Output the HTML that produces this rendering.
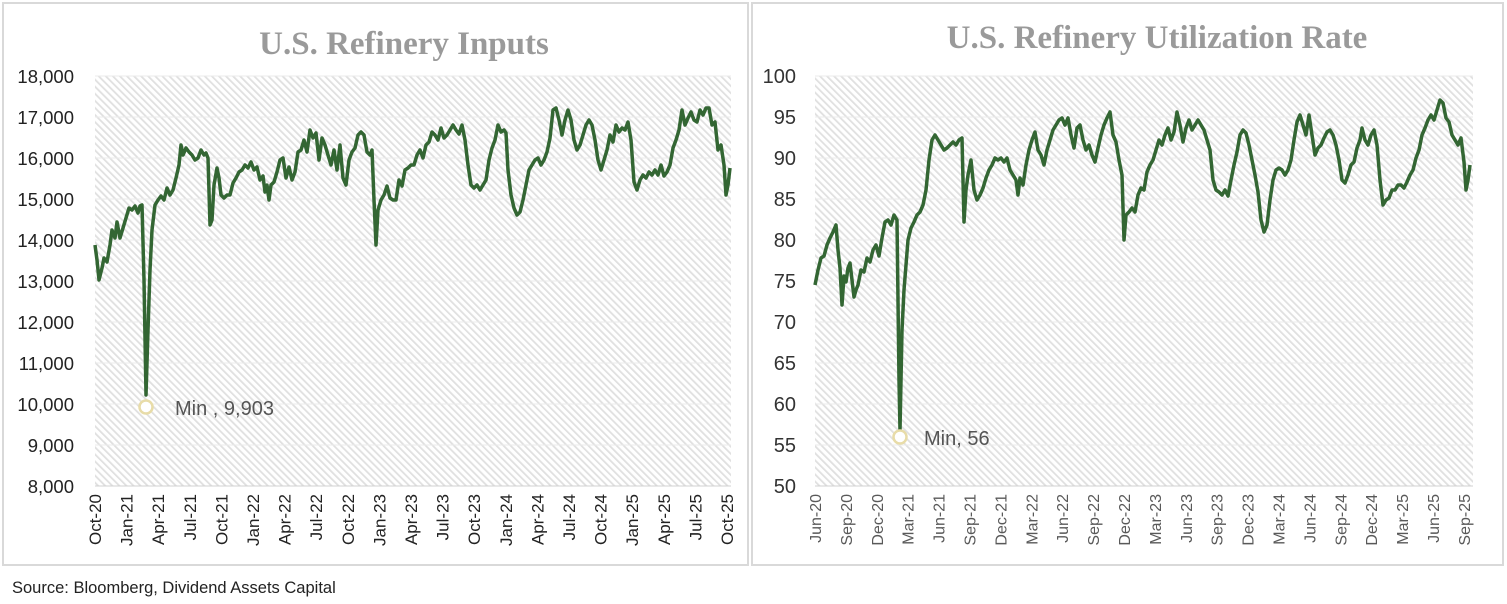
<!DOCTYPE html>
<html><head><meta charset="utf-8"><style>
body{margin:0;background:#fff;width:1507px;height:599px;overflow:hidden;font-family:"Liberation Sans",sans-serif}
</style></head><body>
<svg width="1507" height="599" xmlns="http://www.w3.org/2000/svg" font-family="Liberation Sans, sans-serif">
<defs>
<pattern id="h" width="5" height="5" patternUnits="userSpaceOnUse" patternTransform="rotate(-45)">
<rect width="5" height="5" fill="#fff"/><rect width="1.8" height="5" fill="#e0e0e0"/>
</pattern>
</defs>
<rect x="3" y="3" width="745" height="562" fill="#fff" stroke="#d9d9d9" stroke-width="2"/>
<rect x="752" y="3" width="751" height="562" fill="#fff" stroke="#d9d9d9" stroke-width="2"/>
<text x="404" y="54" text-anchor="middle" font-family="Liberation Serif, serif" font-weight="bold" font-size="33" fill="#9a9a9a">U.S. Refinery Inputs</text>
<text x="1157" y="48" text-anchor="middle" font-family="Liberation Serif, serif" font-weight="bold" font-size="33" fill="#9a9a9a">U.S. Refinery Utilization Rate</text>
<rect x="95" y="76" width="636" height="410" fill="url(#h)"/>
<rect x="815" y="76" width="658" height="410" fill="url(#h)"/>
<g stroke="#ebebeb" stroke-width="1">
<line x1="95" x2="731" y1="76" y2="76"/><line x1="95" x2="731" y1="117" y2="117"/><line x1="95" x2="731" y1="158" y2="158"/><line x1="95" x2="731" y1="199" y2="199"/><line x1="95" x2="731" y1="240" y2="240"/><line x1="95" x2="731" y1="281" y2="281"/><line x1="95" x2="731" y1="322" y2="322"/><line x1="95" x2="731" y1="363" y2="363"/><line x1="95" x2="731" y1="404" y2="404"/><line x1="95" x2="731" y1="445" y2="445"/>
<line x1="815" x2="1473" y1="76" y2="76"/><line x1="815" x2="1473" y1="117" y2="117"/><line x1="815" x2="1473" y1="158" y2="158"/><line x1="815" x2="1473" y1="199" y2="199"/><line x1="815" x2="1473" y1="240" y2="240"/><line x1="815" x2="1473" y1="281" y2="281"/><line x1="815" x2="1473" y1="322" y2="322"/><line x1="815" x2="1473" y1="363" y2="363"/><line x1="815" x2="1473" y1="404" y2="404"/><line x1="815" x2="1473" y1="445" y2="445"/>
</g>
<line x1="95" x2="731" y1="486" y2="486" stroke="#d0d0d0"/>
<line x1="815" x2="1473" y1="486" y2="486" stroke="#d0d0d0"/>
<g font-size="18.5" fill="#222" text-anchor="end">
<text x="74" y="83">18,000</text><text x="74" y="124">17,000</text><text x="74" y="165">16,000</text><text x="74" y="206">15,000</text><text x="74" y="247">14,000</text><text x="74" y="288">13,000</text><text x="74" y="329">12,000</text><text x="74" y="370">11,000</text><text x="74" y="411">10,000</text><text x="74" y="452">9,000</text><text x="74" y="493">8,000</text>
</g>
<g font-size="20" fill="#333" text-anchor="end">
<text x="796" y="83">100</text><text x="796" y="124">95</text><text x="796" y="165">90</text><text x="796" y="206">85</text><text x="796" y="247">80</text><text x="796" y="288">75</text><text x="796" y="329">70</text><text x="796" y="370">65</text><text x="796" y="411">60</text><text x="796" y="452">55</text><text x="796" y="493">50</text>
</g>
<g font-size="17" fill="#222" text-anchor="end" id="lx"></g>
<g font-size="16" fill="#595959" text-anchor="end" id="rx"></g>
<polyline fill="none" stroke="#336633" stroke-width="3.5" stroke-linejoin="round" points="95,245 97,260 99,280 102,268 104,258 107,262 110,245 112,230 115,238 117,222 120,238 123,228 126,218 129,208 132,210 135,206 138,213 140,206 142,205 144,280 146,395 148,330 150,270 152,230 155,205 158,200 161,196 164,200 167,188 170,195 173,190 176,178 179,165 181,145 183,155 186,148 189,152 192,155 195,160 198,158 201,150 204,155 206,153 208,158 210,225 212,220 214,185 217,168 219,178 221,195 224,198 227,195 230,195 233,183 236,178 239,172 242,170 245,165 248,168 251,162 254,170 257,167 260,180 263,176 265,192 267,185 269,200 271,185 274,182 277,172 280,160 283,158 286,178 289,167 292,180 295,172 298,152 301,150 304,140 307,152 310,130 313,138 316,133 319,160 322,138 325,145 328,155 331,165 334,150 337,170 340,145 343,178 346,185 349,160 352,152 355,148 358,135 361,132 364,135 367,152 370,155 372,150 374,200 376,245 378,210 381,200 384,195 387,186 390,198 393,200 396,200 399,180 402,186 405,170 408,168 411,165 414,165 417,155 420,150 423,158 426,145 429,142 432,132 435,135 438,140 441,128 444,138 447,135 450,130 453,125 456,130 459,134 462,125 465,140 468,165 471,185 474,188 477,185 480,190 483,185 486,180 489,160 492,148 495,140 498,125 501,132 504,130 506,133 508,170 511,195 514,208 517,215 520,212 523,200 526,185 529,170 532,165 535,160 538,158 541,165 544,160 547,152 550,138 553,110 556,108 559,120 562,135 565,120 568,110 571,120 574,140 577,150 580,145 583,135 586,125 589,120 592,125 595,140 598,160 601,170 604,160 607,150 610,135 613,142 616,125 619,132 622,128 625,130 628,122 631,140 634,182 637,190 640,180 643,175 646,178 649,172 652,175 655,170 658,175 661,165 664,176 667,172 670,165 673,148 676,140 679,130 682,110 685,125 688,118 691,112 694,120 697,122 700,110 703,115 706,108 709,108 712,125 715,122 718,150 721,145 724,165 726,195 728,185 730,168"/>
<polyline fill="none" stroke="#336633" stroke-width="3.5" stroke-linejoin="round" points="815,285 818,270 821,258 824,256 827,245 830,238 833,232 836,225 838,250 840,268 842,305 844,276 846,282 848,268 850,263 852,280 854,297 856,290 858,285 861,270 864,272 867,258 870,262 873,250 876,245 879,256 882,238 885,222 888,220 891,225 894,215 897,220 899,380 900,430 902,330 904,290 906,265 908,240 911,228 914,222 917,215 920,212 923,205 926,190 929,160 932,140 935,135 938,140 941,145 944,150 947,148 950,145 953,142 956,145 959,140 962,138 964,222 966,190 968,175 971,160 974,190 977,200 980,195 983,188 986,178 989,170 992,165 995,158 998,160 1001,158 1004,162 1007,158 1010,170 1013,175 1016,180 1018,195 1020,178 1023,185 1026,165 1029,150 1032,140 1035,132 1038,150 1041,155 1044,165 1047,150 1050,140 1053,130 1056,125 1059,120 1062,118 1065,125 1068,118 1071,135 1074,148 1077,128 1080,125 1083,140 1086,150 1089,145 1092,155 1095,162 1098,148 1101,135 1104,125 1107,118 1110,112 1113,135 1116,142 1119,160 1122,175 1124,240 1126,215 1129,212 1132,208 1135,212 1138,195 1141,188 1144,190 1147,172 1150,165 1153,160 1156,150 1159,140 1162,145 1165,135 1168,128 1171,140 1174,132 1177,112 1180,125 1183,142 1186,128 1189,120 1192,130 1195,125 1198,120 1201,125 1204,130 1207,140 1210,150 1213,180 1216,190 1219,192 1222,195 1225,190 1228,196 1231,180 1234,165 1237,152 1240,135 1243,130 1246,133 1249,145 1252,160 1255,175 1258,192 1261,220 1264,232 1267,225 1270,200 1273,180 1276,170 1279,168 1282,170 1285,175 1288,170 1291,160 1294,140 1297,122 1300,115 1303,125 1306,135 1309,115 1312,135 1315,155 1318,148 1321,145 1324,138 1327,132 1330,130 1333,135 1336,145 1339,160 1342,180 1345,183 1348,175 1351,165 1354,162 1357,148 1360,140 1362,128 1365,140 1368,145 1371,135 1374,130 1377,145 1380,180 1383,205 1386,200 1389,198 1392,190 1395,190 1398,185 1401,185 1404,188 1407,182 1410,175 1413,170 1416,158 1419,150 1422,135 1425,128 1428,120 1431,115 1434,120 1437,110 1440,100 1443,103 1446,118 1449,122 1452,135 1455,140 1458,145 1461,138 1464,162 1466,190 1468,180 1470,165"/>
<circle cx="146" cy="407" r="6.5" fill="#fff" stroke="#e8dca8" stroke-width="2.5"/>
<text x="175" y="415" font-size="20" fill="#555">Min ,  9,903</text>
<circle cx="900" cy="437" r="6.5" fill="#fff" stroke="#e8dca8" stroke-width="2.5"/>
<text x="924" y="445" font-size="20" fill="#555">Min,  56</text>
<text x="12" y="593" font-size="16.5" fill="#222">Source: Bloomberg, Dividend Assets Capital</text>
</svg>
<script>
var ns="http://www.w3.org/2000/svg";
function put(id,labels,x0,dx,off){var g=document.getElementById(id);labels.forEach(function(l,i){var t=document.createElementNS(ns,"text");var x=x0+i*dx+off;t.setAttribute("transform","translate("+x+",494) rotate(-90)");t.textContent=l;g.appendChild(t);});}
put("lx",["Oct-20","Jan-21","Apr-21","Jul-21","Oct-21","Jan-22","Apr-22","Jul-22","Oct-22","Jan-23","Apr-23","Jul-23","Oct-23","Jan-24","Apr-24","Jul-24","Oct-24","Jan-25","Apr-25","Jul-25","Oct-25"],95,31.6,6);
put("rx",["Jun-20","Sep-20","Dec-20","Mar-21","Jun-21","Sep-21","Dec-21","Mar-22","Jun-22","Sep-22","Dec-22","Mar-23","Jun-23","Sep-23","Dec-23","Mar-24","Jun-24","Sep-24","Dec-24","Mar-25","Jun-25","Sep-25"],815,30.9,6);
</script>
</body></html>
